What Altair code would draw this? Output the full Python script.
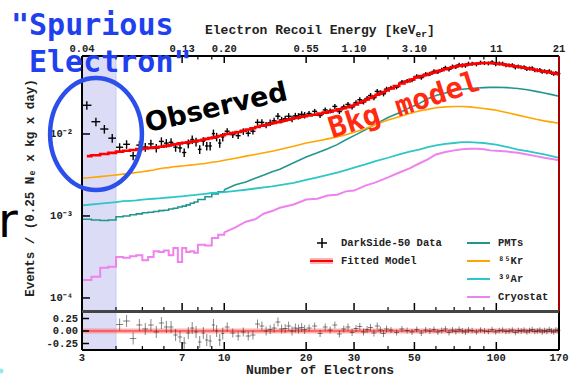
import altair as alt
import numpy as np
import pandas as pd

MONO = "Liberation Mono"
W, H = 477, 294          # full plot area (main panel + ratio panel)
MAIN_H = 255             # bottom of the main panel
RES_TOP = 256            # top of the ratio panel

# ---------------------------------------------------------------- data ----
# number-of-electron bins used for the measured spectrum
ne_data = np.concatenate([
    np.arange(3.125, 10.0, 0.25),
    np.arange(10.25, 20.0, 0.5),
    np.arange(20.5, 40.0, 1.0),
    np.arange(41.0, 80.0, 2.0),
    np.arange(81.5, 170.0, 3.0),
])

# fitted total model (log10 of events / (0.25 Ne x kg x day)) at those bins
fit_log10 = [
    -2.27, -2.26, -2.245, -2.23, -2.215, -2.205, -2.195, -2.185, -2.177, -2.17,
    -2.163, -2.155, -2.145, -2.135, -2.125, -2.115, -2.107, -2.10, -2.093, -2.087,
    -2.08, -2.07, -2.06, -2.05, -2.045, -2.035, -2.025, -2.015,
    -2.00, -1.99, -1.975, -1.96, -1.945, -1.93, -1.915, -1.90, -1.89, -1.875,
    -1.865, -1.855, -1.845, -1.835, -1.825, -1.815, -1.805, -1.80, -1.79, -1.783,
    -1.775, -1.765, -1.752, -1.74, -1.727, -1.713, -1.70, -1.686, -1.672, -1.658,
    -1.64, -1.62, -1.60, -1.58, -1.56, -1.54, -1.522, -1.505, -1.488, -1.47,
    -1.445, -1.415, -1.385, -1.36, -1.335, -1.31, -1.295, -1.28, -1.265, -1.25,
    -1.233, -1.222, -1.21, -1.198, -1.187, -1.177, -1.17, -1.163, -1.157, -1.152,
    -1.147, -1.142, -1.138, -1.135, -1.135, -1.137, -1.14, -1.145, -1.15, -1.157,
    -1.163, -1.169, -1.175, -1.181, -1.187, -1.193, -1.199, -1.205, -1.211, -1.217,
    -1.223, -1.228, -1.233, -1.238, -1.243, -1.248, -1.253, -1.258, -1.263, -1.268,
]

# (data - model) / model for each bin
residual = [
    3.17, 1.57, 1.02, 0.51, 0.13, 0.20, -0.15, 0.12, 0.04, 0.12,
    -0.02, 0.16, 0.08, 0.08, -0.08, -0.12, -0.24, -0.04, 0.06, -0.02,
    -0.22, -0.04, -0.18, -0.20, 0.12, 0.00, -0.18, -0.05,
    0.08, -0.04, -0.10, -0.02, -0.10, -0.08, 0.14, 0.10, 0.00, 0.03,
    0.06, 0.18, 0.04, 0.05, 0.10, 0.00, 0.06, 0.04, 0.07, 0.03,
    0.06, 0.10, -0.05, 0.08, 0.02, 0.12, -0.06, 0.04, 0.08, -0.03,
    0.05, 0.09, -0.02, 0.03, 0.07, -0.04, 0.10, 0.02, -0.05, 0.04,
    0.02, -0.03, 0.04, 0.01, -0.02, 0.03, -0.04, 0.02, 0.00, 0.03,
    -0.02, 0.01, 0.04, -0.03, 0.02, -0.01, 0.03, 0.00, -0.02, 0.02,
    0.01, -0.02, 0.02, 0.00, -0.01, 0.03, -0.02, 0.01, 0.02, -0.01,
    0.00, 0.02, -0.03, 0.01, 0.00, 0.02, -0.02, 0.01, 0.03, -0.01,
    0.00, 0.02, -0.02, 0.01, -0.01, 0.03, 0.00, -0.02, 0.02, 0.01,
]

# relative statistical uncertainty per bin
rel_err = [0.12] * 28 + [0.09] * 20 + [0.07] * 20 + [0.06] * 20 + [0.055] * 30

# background components, histogram lower bin edges
ne_model = [3, 3.25, 3.5, 3.75, 4, 4.25, 4.5, 4.75, 5, 5.25, 5.5, 5.75, 6, 6.25,
            6.5, 6.75, 7, 7.25, 7.5, 7.75, 8, 8.5, 9, 9.5, 10, 11, 12, 13, 14,
            15, 16, 18, 20, 22, 24, 26, 28, 30, 33, 36, 40, 44, 48, 52, 56, 60,
            65, 70, 75, 80, 85, 90, 95, 100, 110, 120, 130, 140, 150, 160, 170]

pmt_log10 = [-3.04, -3.05, -3.055, -3.05, -3.01, -3.00, -2.985, -2.975, -2.96, -2.955,
             -2.945, -2.935, -2.93, -2.915, -2.905, -2.89, -2.88, -2.865, -2.845, -2.83,
             -2.80, -2.765, -2.73, -2.705, -2.68, -2.62, -2.585, -2.54, -2.50, -2.46,
             -2.43, -2.35, -2.28, -2.23, -2.18, -2.13, -2.07, -2.02, -1.95, -1.88,
             -1.80, -1.74, -1.68, -1.63, -1.57, -1.53, -1.50, -1.47, -1.455, -1.445,
             -1.44, -1.435, -1.432, -1.43, -1.435, -1.445, -1.46, -1.48, -1.50, -1.52,
             -1.54]

kr85_log10 = [-2.54, -2.53, -2.52, -2.51, -2.50, -2.49, -2.48, -2.47, -2.46, -2.45,
              -2.44, -2.425, -2.415, -2.41, -2.40, -2.395, -2.39, -2.385, -2.38, -2.375,
              -2.37, -2.36, -2.345, -2.335, -2.32, -2.295, -2.27, -2.25, -2.23, -2.21,
              -2.19, -2.15, -2.11, -2.085, -2.06, -2.035, -2.01, -1.98, -1.935, -1.885,
              -1.83, -1.79, -1.75, -1.72, -1.70, -1.68, -1.67, -1.665, -1.665, -1.67,
              -1.68, -1.69, -1.70, -1.71, -1.74, -1.77, -1.795, -1.82, -1.84, -1.855,
              -1.87]

ar39_log10 = [-2.87, -2.86, -2.85, -2.84, -2.83, -2.82, -2.815, -2.81, -2.80, -2.795,
              -2.79, -2.785, -2.78, -2.775, -2.77, -2.765, -2.76, -2.755, -2.75, -2.745,
              -2.74, -2.73, -2.72, -2.715, -2.71, -2.695, -2.68, -2.665, -2.65, -2.64,
              -2.625, -2.595, -2.56, -2.53, -2.50, -2.47, -2.44, -2.41, -2.37, -2.33,
              -2.29, -2.25, -2.215, -2.19, -2.16, -2.14, -2.12, -2.11, -2.10, -2.10,
              -2.105, -2.11, -2.12, -2.13, -2.16, -2.19, -2.21, -2.23, -2.25, -2.27,
              -2.29]

cryo_log10 = [-3.78, -3.74, -3.63, -3.62, -3.50, -3.51, -3.49, -3.48, -3.54, -3.50,
              -3.43, -3.44, -3.42, -3.48, -3.39, -3.56, -3.39, -3.44, -3.43, -3.45,
              -3.35, -3.36, -3.27, -3.23, -3.20, -3.14, -3.07, -3.04, -2.97, -2.94,
              -2.90, -2.86, -2.80, -2.79, -2.75, -2.74, -2.70, -2.69, -2.63, -2.59,
              -2.53, -2.47, -2.42, -2.36, -2.31, -2.25, -2.22, -2.20, -2.185, -2.18,
              -2.18, -2.185, -2.20, -2.205, -2.215, -2.23, -2.25, -2.27, -2.29, -2.305,
              -2.32]

# axis labels
ne_ticks_major = [3, 7, 10, 20, 30, 50, 100, 170]
ne_ticks_minor = [4, 5, 6, 8, 9, 40, 60, 70, 80, 90]
ne_tick_labels = ["3", "7", "10", "20", "30", "50", "100", "170"]
energy_labels = ["0.04", "0.13", "0.20", "0.55", "1.10", "3.10", "11", "21"]
y_ticks = [1e-2, 1e-3, 1e-4]
y_tick_labels = ["10⁻²", "10⁻³", "10⁻⁴"]
res_ticks = [0.25, 0.0, -0.25]
res_tick_labels = ["0.25", "0.00", "-0.25"]

# ---------------------------------------------------------------- frames --
fit = 10 ** np.array(fit_log10)
res = np.array(residual)
err = np.array(rel_err)
obs = fit * (1 + res)
half = np.where(ne_data < 10, 0.125, ne_data * 0.021)

pts = pd.DataFrame({
    "ne": ne_data, "obs": obs, "lo": obs * (1 - err), "hi": obs * (1 + err),
    "xlo": ne_data - half, "xhi": ne_data + half, "fit": fit,
    "res": res, "rlo": res - err, "rhi": res + err,
})
res_pts = pts[pts["res"].abs() < 0.38]

# name, values, colour, width, histogram-style below 10 electrons
components = [
    ("PMTs", pmt_log10, "#23958e", 1.6, True),
    ("⁸⁵Kr", kr85_log10, "#ffa500", 1.6, False),
    ("³⁹Ar", ar39_log10, "#2ec6c6", 1.8, False),
    ("Cryostat", cryo_log10, "#ee82ee", 2.0, True),
]

one = pd.DataFrame({"k": [0]})

x_scale = alt.Scale(type="log", domain=[3, 170], range=[0, W], nice=False)
y_main = alt.Scale(type="log", domain=[10 ** -4.159, 10 ** -1.049],
                   range=[MAIN_H, 0], nice=False)
y_res = alt.Scale(domain=[-0.38, 0.38], range=[H, RES_TOP], nice=False,
                  zero=False, clamp=True)

X = lambda f: alt.X(f, type="quantitative", scale=x_scale, axis=None)
YM = lambda f: alt.Y(f, type="quantitative", scale=y_main, axis=None)
YR = lambda f: alt.Y(f, type="quantitative", scale=y_res, axis=None)


def text(t, x, y, size=10.5, color="#222", font=MONO, weight="bold",
         align="left", baseline="alphabetic", angle=0):
    return alt.Chart(one).mark_text(
        text=t, font=font, fontSize=size, fontWeight=weight, color=color,
        align=align, baseline=baseline, angle=angle,
    ).encode(x=alt.value(x), y=alt.value(y))


def hrule(x0, x1, y, color="black", width=1.0, opacity=1.0):
    return alt.Chart(one).mark_rule(color=color, strokeWidth=width,
                                    opacity=opacity).encode(
        x=alt.value(x0), x2=alt.value(x1), y=alt.value(y))


def vrule(x, y0, y1, color="black", width=1.0):
    return alt.Chart(one).mark_rule(color=color, strokeWidth=width).encode(
        x=alt.value(x), y=alt.value(y0), y2=alt.value(y1))


# shaded "spurious electron" region
band = alt.Chart(pd.DataFrame({"x0": [3.0], "x1": [4.0]})).mark_rect(
    color="#dcdcf6").encode(x=X("x0"), x2="x1", y=alt.value(0), y2=alt.value(H))
band_edge = alt.Chart(pd.DataFrame({"x0": [4.0]})).mark_rule(
    color="#c9c9ee", strokeWidth=1).encode(x=X("x0"), y=alt.value(0), y2=alt.value(H))

# ---------------------------------------------------------------- main ----
main_layers = []
for name, vals, color, sw, stepped in components:
    df = pd.DataFrame({"ne": ne_model, "v": 10 ** np.array(vals)})
    if stepped:
        low, high = df[df["ne"] <= 10], df[df["ne"] >= 10]
        main_layers.append(
            alt.Chart(low).mark_line(color=color, strokeWidth=sw,
                                     interpolate="step-after")
            .encode(x=X("ne"), y=YM("v")))
        main_layers.append(
            alt.Chart(high).mark_line(color=color, strokeWidth=sw)
            .encode(x=X("ne"), y=YM("v")))
    else:
        main_layers.append(
            alt.Chart(df).mark_line(color=color, strokeWidth=sw)
            .encode(x=X("ne"), y=YM("v")))

err_v = alt.Chart(pts).mark_rule(color="black", strokeWidth=1.4).encode(
    x=X("ne"), y=YM("lo"), y2="hi")
err_h = alt.Chart(pts).mark_rule(color="black", strokeWidth=1.4).encode(
    x=X("xlo"), x2="xhi", y=YM("obs"))
fit_line = alt.Chart(pts).mark_line(color="#ff0000", strokeWidth=2.6,
                                    interpolate="step").encode(x=X("ne"), y=YM("fit"))

main = alt.layer(*main_layers, err_v, err_h, fit_line)

# ticks and labels of the main panel
major_df = pd.DataFrame({"ne": ne_ticks_major[1:-1]})
minor_df = pd.DataFrame({"ne": ne_ticks_minor})
ytick_df = pd.DataFrame({"v": y_ticks, "label": y_tick_labels})

main_ticks = alt.layer(
    alt.Chart(major_df).mark_rule(color="black", strokeWidth=1.5).encode(
        x=X("ne"), y=alt.value(MAIN_H), y2=alt.value(MAIN_H - 8)),
    alt.Chart(minor_df).mark_rule(color="black", strokeWidth=1.2).encode(
        x=X("ne"), y=alt.value(MAIN_H), y2=alt.value(MAIN_H - 4)),
    alt.Chart(major_df).mark_rule(color="black", strokeWidth=1.5).encode(
        x=X("ne"), y=alt.value(0), y2=alt.value(7)),
    alt.Chart(minor_df).mark_rule(color="black", strokeWidth=1.2).encode(
        x=X("ne"), y=alt.value(0), y2=alt.value(3.5)),
    alt.Chart(ytick_df).mark_rule(color="black", strokeWidth=1.5).encode(
        x=alt.value(0), x2=alt.value(8), y=YM("v")),
    alt.Chart(ytick_df).mark_text(font=MONO, fontSize=10.5, fontWeight="bold",
                                  color="#222", align="right", baseline="middle")
    .encode(x=alt.value(-9), y=YM("v"), text="label:N"),
)

# ---------------------------------------------------------------- ratio ---
res_band = alt.Chart(one).mark_rect(color="#ff7070", opacity=0.55).encode(
    x=alt.value(0), x2=alt.value(W), y=alt.value(272.5), y2=alt.value(277.5))
res_zero = alt.Chart(pd.DataFrame({"r": [0.0]})).mark_rule(
    color="#ff2020", strokeWidth=1).encode(x=alt.value(0), x2=alt.value(W), y=YR("r"))
res_v = alt.Chart(res_pts).mark_rule(color="#222", strokeWidth=1, opacity=0.55).encode(
    x=X("ne"), y=YR("rlo"), y2="rhi")
res_h = alt.Chart(res_pts).mark_rule(color="#222", strokeWidth=1, opacity=0.55).encode(
    x=X("xlo"), x2="xhi", y=YR("res"))

rtick_df = pd.DataFrame({"r": res_ticks, "label": res_tick_labels})
res_ticks_layer = alt.layer(
    alt.Chart(rtick_df).mark_rule(color="black", strokeWidth=1.5).encode(
        x=alt.value(0), x2=alt.value(7), y=YR("r")),
    alt.Chart(rtick_df).mark_text(font=MONO, fontSize=10.5, fontWeight="bold",
                                  color="#222", align="right", baseline="middle")
    .encode(x=alt.value(-4), y=YR("r"), text="label:N"),
)
resid = alt.layer(res_band, res_zero, res_v, res_h, res_ticks_layer)

# bottom ticks of the ratio panel and x labels
bottom = alt.layer(
    alt.Chart(major_df).mark_rule(color="black", strokeWidth=1.5).encode(
        x=X("ne"), y=alt.value(H), y2=alt.value(H - 8)),
    alt.Chart(minor_df).mark_rule(color="black", strokeWidth=1.2).encode(
        x=X("ne"), y=alt.value(H), y2=alt.value(H - 4)),
    alt.Chart(pd.DataFrame({"ne": ne_ticks_major, "label": ne_tick_labels}))
    .mark_text(font=MONO, fontSize=10.5, fontWeight="bold", color="#222",
               baseline="alphabetic")
    .encode(x=X("ne"), y=alt.value(H + 11), text="label:N"),
    alt.Chart(pd.DataFrame({"ne": ne_ticks_major, "label": energy_labels}))
    .mark_text(font=MONO, fontSize=10.5, fontWeight="bold", color="#222",
               baseline="alphabetic")
    .encode(x=X("ne"), y=alt.value(-4), text="label:N"),
)

# frame
frame = alt.layer(
    hrule(0, W, 0, width=2),
    vrule(0, 0, H, width=2),
    vrule(W, 0, MAIN_H, color="#a80000", width=2),
    vrule(W, MAIN_H, H, width=2),
    hrule(0, W, MAIN_H + 0.5, color="#444", width=3),
    hrule(0, W, H, width=2),
)

# titles
titles = alt.layer(
    text("Electron Recoil Energy [keV", 123, -22, size=13),
    text("er", 333.6, -19, size=9.5),
    text("]", 345, -22, size=13),
    text("Number of Electrons", 238, 318, size=13, align="center"),
    text("Events / (0.25 Nₑ x kg x day)", -52, 132, size=12.5, align="center",
         baseline="middle", angle=270),
)

# legend
legend = alt.layer(
    vrule(240, 182, 192, width=1.5),
    hrule(235, 245, 187, width=1.5),
    text("DarkSide-50 Data", 259, 187, baseline="middle"),
    alt.Chart(one).mark_rect(color="#ff8080", opacity=0.6).encode(
        x=alt.value(228), x2=alt.value(251), y=alt.value(202), y2=alt.value(208)),
    hrule(228, 251, 205, color="#ff0000", width=2),
    text("Fitted Model", 259, 205, baseline="middle"),
    *[hrule(385, 408, 187 + 18 * i, color=c[2], width=2) for i, c in enumerate(components)],
    *[text(c[0], 416, 187 + 18 * i, baseline="middle") for i, c in enumerate(components)],
)

# annotations
ellipse = alt.Chart(one).mark_point(
    shape="M -0.82 0 A 0.82 1 0 1 0 0.82 0 A 0.82 1 0 1 0 -0.82 0 Z",
    size=12544, filled=False, stroke="#2a4fea", strokeWidth=4.5, opacity=1,
).encode(x=alt.value(14), y=alt.value(78))

notes = alt.layer(
    ellipse,
    text('"Spurious', -71, -21, size=30, color="#2040f0", font="DejaVu Sans Mono"),
    text('Electron"', -53, 16, size=30, color="#2040f0", font="DejaVu Sans Mono"),
    text("Observed", 136, 60, size=27, color="black", font="DejaVu Sans",
         weight="bold", align="center", angle=347),
    text("Bkg model", 325, 58, size=29, color="#ff2a10", font="DejaVu Sans Mono",
         align="center", angle=342),
    text("r", -84, 181, size=48, color="black", font="DejaVu Sans", weight="normal"),
    alt.Chart(one).mark_point(filled=True, color="#7fe0f0", size=25, opacity=0.8).encode(
        x=alt.value(-81), y=alt.value(315)),
)

chart = alt.layer(
    band, band_edge, main, main_ticks, resid, bottom, frame, titles, legend, notes,
).resolve_scale(y="independent").properties(
    width=W, height=H,
    autosize=alt.AutoSizeParams(type="none"),
    padding={"left": 82, "top": 56, "right": 10, "bottom": 25},
).configure_view(stroke=None)

chart.save("out.html", embed_options={"renderer": "svg", "actions": False})
